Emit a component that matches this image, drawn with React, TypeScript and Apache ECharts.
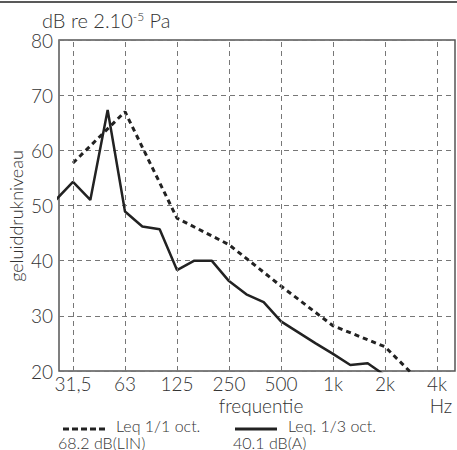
import React, { useEffect, useRef } from 'react';
import * as echarts from 'echarts';

// 1/3-octave band spectrum (solid line)
const thirdOctaveBands = [25, 31.5, 40, 50, 63, 80, 100, 125, 160, 200, 250, 315, 400, 500, 630, 800, 1000, 1250, 1600, 2000];
const thirdOctaveLevels = [51.0, 54.3, 51.0, 67.3, 48.9, 46.2, 45.7, 38.3, 40.0, 40.0, 36.3, 33.9, 32.5, 29.0, 27.0, 25.0, 23.1, 21.1, 21.4, 19.2];

// 1/1-octave band spectrum (dashed line)
const octaveBands = [31.5, 63, 125, 250, 500, 1000, 2000, 4000];
const octaveLevels = [57.7, 67.0, 47.7, 42.9, 35.4, 28.2, 24.4, 15.0];

const xTickLabels = ['31,5', '63', '125', '250', '500', '1k', '2k', '4k'];

const FONT = 'Lato';
const TXT = '#333';
const W = 300;

// octave index relative to 31.5 Hz, snapped to 1/3 octave
const toX = (f: number) => Math.round(3 * Math.log2(f / 31.5)) / 3;

export default function App() {
  const ref = useRef<HTMLDivElement>(null);
  useEffect(() => {
    if (!ref.current) return;
    const chart = echarts.init(ref.current, undefined, { renderer: 'svg' });
    const tickPositions = octaveBands.map(toX);
    const txt = (text: string, x: number, y: number, size: number, align = 'left') => ({
      type: 'text', x, y,
      style: { text, fontSize: size, fontFamily: FONT, fontWeight: W, fill: TXT, align, verticalAlign: 'middle' },
    });
    chart.setOption({
      animation: false,
      grid: {
        left: 59, right: 2, top: 40, bottom: 79,
        show: true, borderColor: '#555', borderWidth: 1.5,
      },
      xAxis: {
        type: 'value', min: -0.269, max: 7.346,
        axisLine: { show: false }, axisTick: { show: false }, splitLine: { show: false },
        axisLabel: {
          customValues: tickPositions,
          formatter: (v: number) => xTickLabels[tickPositions.indexOf(v)] ?? '',
          fontFamily: FONT, fontWeight: W, fontSize: 19, color: TXT, margin: 3,
        },
      },
      yAxis: {
        type: 'value', min: 20, max: 80, interval: 10,
        axisLine: { show: false }, axisTick: { show: false },
        splitLine: { lineStyle: { type: [5, 4], color: '#777', width: 1 } },
        axisLabel: { fontFamily: FONT, fontWeight: W, fontSize: 19, color: TXT, margin: 6, padding: [6, 0, 0, 0] },
      },
      series: [
        {
          type: 'line', z: 1, data: [], symbol: 'none', silent: true,
          markLine: {
            silent: true, symbol: ['none', 'none'], label: { show: false },
            lineStyle: { type: [5, 4], color: '#777', width: 1 },
            data: tickPositions.map((x) => ({ xAxis: x })),
          },
        },
        {
          type: 'line', z: 3, symbol: 'none',
          data: octaveBands.map((f, i) => [toX(f), octaveLevels[i]]),
          lineStyle: { color: '#222', width: 3, type: [5, 4] },
        },
        {
          type: 'line', z: 3, symbol: 'none',
          data: thirdOctaveBands.map((f, i) => [toX(f), thirdOctaveLevels[i]]),
          lineStyle: { color: '#222', width: 2.5 },
        },
      ],
      graphic: [
        { type: 'line', shape: { x1: 0, y1: 2, x2: 457, y2: 2 }, style: { stroke: '#222', lineWidth: 1.5 } },
        {
          type: 'text', x: 42, y: 20,
          style: {
            text: '{a|dB re 2.10}{s|-5}{a| Pa}', verticalAlign: 'middle',
            rich: {
              a: { fontSize: 20, fontFamily: FONT, fontWeight: W, fill: TXT },
              s: { fontSize: 12, fontFamily: FONT, fontWeight: W, fill: TXT, verticalAlign: 'top' },
            },
          },
        },
        {
          type: 'text', x: 16, y: 216, rotation: Math.PI / 2,
          style: { text: 'geluiddrukniveau', fontSize: 18, fontFamily: FONT, fontWeight: W, fill: TXT, align: 'center', verticalAlign: 'middle' },
        },
        txt('frequentie', 261, 405, 19, 'center'),
        txt('Hz', 441, 405, 19, 'center'),
        { type: 'line', shape: { x1: 63, y1: 429, x2: 105, y2: 429 }, style: { stroke: '#222', lineWidth: 3, lineDash: [6, 3] } },
        txt('Leq 1/1 oct.', 116, 425, 16),
        txt('68.2 dB(LIN)', 58, 442, 16),
        { type: 'line', shape: { x1: 235, y1: 429, x2: 277, y2: 429 }, style: { stroke: '#222', lineWidth: 3 } },
        txt('Leq. 1/3 oct.', 288, 425, 16),
        txt('40.1 dB(A)', 233, 442, 16),
      ],
    });
    return () => chart.dispose();
  }, []);
  return <div ref={ref} style={{ position: 'fixed', left: 0, top: 0, width: 457, height: 450, background: '#fff' }} />;
}
